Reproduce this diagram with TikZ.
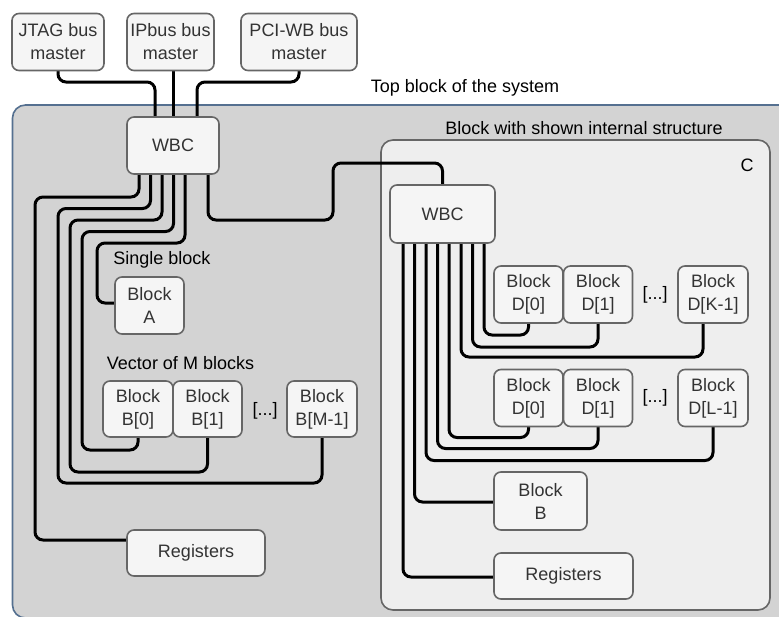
\documentclass[tikz,border=0pt]{standalone}
\usepackage{fontspec}
\setmainfont{Liberation Sans}
\usetikzlibrary{calc}
\definecolor{boxfill}{HTML}{F5F5F5}
\definecolor{boxline}{HTML}{666666}
\definecolor{boxtext}{HTML}{333333}
\definecolor{topfill}{HTML}{D3D3D3}
\definecolor{topline}{HTML}{557090}
\definecolor{cfill}{HTML}{EEEEEE}
\pgfdeclarelayer{bgzero}
\pgfdeclarelayer{bgone}
\pgfsetlayers{bgzero,bgone,main}
\tikzset{
  blk/.style={draw=boxline, fill=boxfill, line width=1.6pt, rounded corners=7pt,
    inner sep=0pt, outer sep=0pt, align=center, text=boxtext,
    font=\fontsize{18}{23}\selectfont},
  lbl/.style={inner sep=0pt, font=\fontsize{18}{22}\selectfont, text=black},
  bus/.style={line width=3pt, rounded corners=8pt, draw=black},
}
\begin{document}
\begin{tikzpicture}[x=1pt,y=-1pt]
\useasboundingbox (0,0) rectangle (779,616);
% containers
\begin{pgfonlayer}{bgzero}
\draw[topline, fill=topfill, line width=1.6pt, rounded corners=13pt] (12.5,105) rectangle (800,618);
\draw[boxline, fill=cfill, line width=1.6pt, rounded corners=12pt] (381,140) rectangle (770,610);
\end{pgfonlayer}
\node[lbl] (ttop) at (465,88) {Top block of the system};
\node[lbl] (tcin) at (584,128) {Block with shown internal structure};
\node[lbl] (tc) at (747,165) {C};
\node[lbl] (tsingle) at (162,260) {Single block};
\node[lbl] (tvec) at (180.5,363) {Vector of M blocks};
% masters
\node[blk, minimum width=92pt, minimum height=57pt] (jtag) at (58,42) {JTAG bus\\master};
\node[blk, minimum width=87pt, minimum height=57pt] (ipbus) at (170.5,42) {IPbus bus\\master};
\node[blk, minimum width=116pt, minimum height=57pt] (pci) at (299,42) {PCI-WB bus\\master};
% top-level
\node[blk, minimum width=92pt, minimum height=57pt] (wbc) at (173,145.5) {WBC};
\node[blk, minimum width=69pt, minimum height=57pt] (blkA) at (149.5,305.5) {Block\\A};
\node[blk, minimum width=70pt, minimum height=56pt] (b0) at (138,409) {Block\\B[0]};
\node[blk, minimum width=69pt, minimum height=56pt] (b1) at (207.5,409) {Block\\B[1]};
\node[lbl] (dotsB) at (265,411) {[...]};
\node[blk, minimum width=70pt, minimum height=56pt] (bM) at (322,409) {Block\\B[M-1]};
\node[blk, minimum width=138pt, minimum height=46pt] (regO) at (196,553) {Registers};
% inner C
\node[blk, minimum width=105pt, minimum height=58pt] (iwbc) at (442.5,214) {WBC};
\node[blk, minimum width=69pt, minimum height=57pt] (d0a) at (528.5,294.5) {Block\\D[0]};
\node[blk, minimum width=69pt, minimum height=57pt] (d1a) at (598,294.5) {Block\\D[1]};
\node[lbl] (dotsK) at (655,295) {[...]};
\node[blk, minimum width=70pt, minimum height=57pt] (dK) at (713,294.5) {Block\\D[K-1]};
\node[blk, minimum width=69pt, minimum height=57pt] (d0b) at (528.5,398) {Block\\D[0]};
\node[blk, minimum width=69pt, minimum height=57pt] (d1b) at (598,398) {Block\\D[1]};
\node[lbl] (dotsL) at (655,398) {[...]};
\node[blk, minimum width=70pt, minimum height=57pt] (dL) at (713,398) {Block\\D[L-1]};
\node[blk, minimum width=93pt, minimum height=58pt] (iB) at (540.5,501) {Block\\B};
\node[blk, minimum width=139pt, minimum height=46pt] (iR) at (563.5,576) {Registers};
% connectors
\begin{pgfonlayer}{bgone}
\draw[bus] (jtag.south) |- (155,82) -- ($(wbc.north)+(-18,0)$);
\draw[bus] (wbc.north |- ipbus.south) -- (wbc.north);
\draw[bus] (pci.south) |- (197,82) -- ($(wbc.north)+(24,0)$);
\draw[bus] ($(wbc.south)+(-34,0)$) |- (35,197) |- ([yshift=13pt]regO.west);
\draw[bus] ($(wbc.south)+(-22.5,0)$) |- (58,208.5) |- ($(bM.south)+(0,46)$) -- (bM.south);
\draw[bus] ($(wbc.south)+(-11,0)$) |- (70,220) |- ($(b1.south)+(0,35)$) -- (b1.south);
\draw[bus] ($(wbc.south)+(0.5,0)$) |- (82,231.5) |- ($(b0.south)+(0,13)$) -- (b0.south);
\draw[bus] ($(wbc.south)+(12,0)$) |- (97,243) |- ([yshift=2.5pt]blkA.west);
\draw[bus] ($(wbc.south)+(35,0)$) |- (333,220) |- (442.5,163) -- (iwbc.north);
\draw[bus] ($(iwbc.south)+(41.5,0)$) |- ($(d0a.south)+(0,12)$) -- (d0a.south);
\draw[bus] ($(iwbc.south)+(30,0)$) |- ($(d1a.south)+(0,24)$) -- (d1a.south);
\draw[bus] ($(iwbc.south)+(18.5,0)$) |- ($(dK.south)+(-10,34)$) -- ($(dK.south)+(-10,0)$);
\draw[bus] ($(iwbc.south)+(6.5,0)$) |- ($(d0b.south)+(0,11)$) -- (d0b.south);
\draw[bus] ($(iwbc.south)+(-5,0)$) |- ($(d1b.south)+(0,22)$) -- (d1b.south);
\draw[bus] ($(iwbc.south)+(-16.5,0)$) |- ($(dL.south)+(0,34)$) -- (dL.south);
\draw[bus] ($(iwbc.south)+(-28,0)$) |- ([yshift=-1pt]iB.west);
\draw[bus] ($(iwbc.south)+(-39.5,0)$) |- ([yshift=-1pt]iR.west);
\end{pgfonlayer}
\end{tikzpicture}
\end{document}
